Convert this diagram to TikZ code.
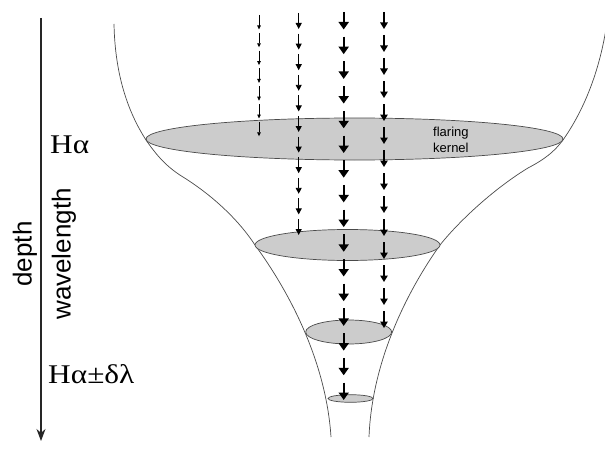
\documentclass[tikz,border=0pt]{standalone}
\usepackage{fontspec}
\setmainfont{Liberation Serif}
\newfontfamily\arialf{Liberation Sans}
\usetikzlibrary{arrows.meta}
\definecolor{kernelgray}{HTML}{CCCCCC}
\definecolor{edgegray}{HTML}{4A4A4A}
\tikzset{
  funnel/.style={draw=edgegray, line width=0.7pt},
  layer/.style={draw=edgegray, fill=kernelgray, line width=0.7pt},
  dropA/.style={black, line width=0.7pt, -{Triangle[length=4pt,width=3.5pt]}},
  dropB/.style={black, line width=0.9pt, -{Triangle[length=6pt,width=6pt]}},
  dropC/.style={black, line width=1.8pt, -{Triangle[length=7.5pt,width=10pt]}},
  dropD/.style={black, line width=1.3pt, -{Triangle[length=6.5pt,width=7.5pt]}},
  serifl/.style={font=\fontsize{27}{30}\selectfont, inner sep=0pt, xscale=1.16},
  sansl/.style={font=\arialf\fontsize{26}{30}\selectfont, inner sep=0pt, rotate=90},
}
\newcommand\dropcolumn[6]{%
  \foreach \i in {1,...,#5} {
    \draw[#6] (#1,{#2+(\i-1)*#3}) -- (#1,{#2+(\i-1)*#3+#4});
  }%
}
\begin{document}
\begin{tikzpicture}[x=1pt,y=-1pt]
\useasboundingbox (0,0) rectangle (605,452);
\clip (0,0) rectangle (605,452);
% funnel outline
\draw[funnel] (114,24) .. controls (115,75) and (128,112) .. (146,140)
  .. controls (155,153) and (165,166) .. (183,177)
  .. controls (215,197) and (240,222) .. (255,245)
  .. controls (288,290) and (326,360) .. (331,437);
\draw[funnel] (608,15) .. controls (601,72) and (582,113) .. (563,140)
  .. controls (554,152) and (545,159) .. (528,168)
  .. controls (495,188) and (460,220) .. (440,245)
  .. controls (408,290) and (372,360) .. (369,437);
% layers
\draw[layer] (354.5,139) ellipse [x radius=208.5, y radius=21];
\draw[layer] (347.5,245) ellipse [x radius=92.5, y radius=15.5];
\draw[layer] (348.7,332) ellipse [x radius=43, y radius=12];
\draw[layer] (350.5,398.5) ellipse [x radius=22.5, y radius=3.8];
% dropping columns
\dropcolumn{259}{15}{17.8}{14.5}{7}{dropA}
\dropcolumn{298.7}{13}{20.6}{16}{11}{dropB}
\dropcolumn{343.7}{12}{24.7}{17.5}{16}{dropC}
\dropcolumn{384}{12}{23}{17}{14}{dropD}
% label inside kernel
\node[font=\arialf\fontsize{13}{16}\selectfont, align=left, anchor=west, inner sep=0pt] (kern) at (433,140) {flaring\\kernel};
% depth axis
\coordinate (axtop) at (41,18);
\coordinate (axbot) at (41,441);
\draw[black!85, line width=1.2pt, -{Stealth[length=12pt,width=9pt]}] (axtop) -- (axbot);
\node[serifl, anchor=base west] (ha) at (50,153) {Hα};
\node[serifl, anchor=base west] (hadl) at (48,383) {Hα±δλ};
\node[sansl] (depth) at (25,254) {depth};
\node[sansl] (wave) at (64,254) {wavelength};
\end{tikzpicture}
\end{document}
